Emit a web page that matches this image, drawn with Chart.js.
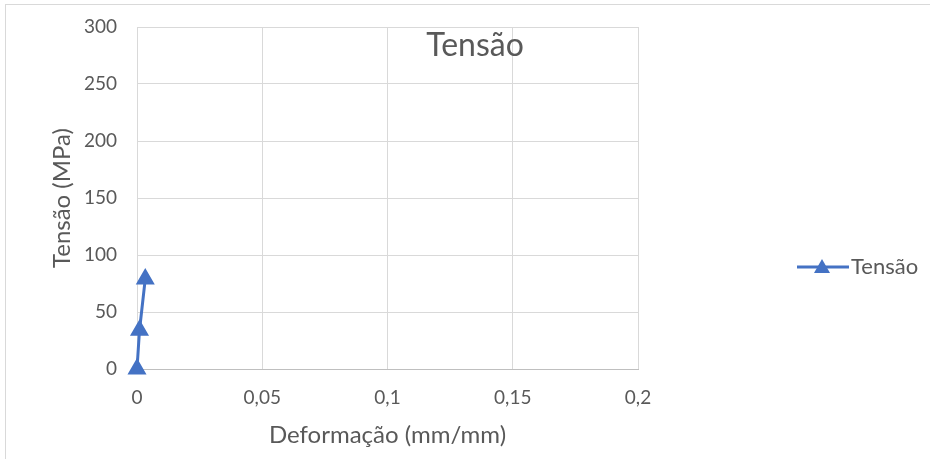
<!DOCTYPE html>
<html><head><meta charset="utf-8">
<script src="https://cdn.jsdelivr.net/npm/chart.js@4/dist/chart.umd.min.js"></script>
<style>html,body{margin:0;padding:0;background:#fff;}#wrap{width:930px;height:459px;position:relative;}</style>
</head><body><div id="wrap"><canvas id="c" width="930" height="459"></canvas></div>
<script>
const seriesName = 'Tensão';
const strainValues = [0, 0.001, 0.0033];
const stressValues = [0, 34, 79];
const xTickValues = [0, 0.05, 0.1, 0.15, 0.2];
const xTickLabels = ['0', '0,05', '0,1', '0,15', '0,2'];
const yTickValues = [0, 50, 100, 150, 200, 250, 300];
const chartTitle = 'Tensão';
const xTitle = 'Deformação (mm/mm)';
const yTitle = 'Tensão (MPa)';

const FONT = 'Lato, "Liberation Sans", sans-serif';
const TXT = '#595959';
const BLUE = '#4472C4';

const points = strainValues.map((x, i) => ({x: x, y: stressValues[i]}));

const extras = {
  id: 'extras',
  beforeDraw(chart) {
    const ctx = chart.ctx;
    ctx.save();
    ctx.strokeStyle = '#d9d9d9';
    ctx.lineWidth = 1;
    ctx.strokeRect(5.5, 4.5, 940, 470);
    ctx.restore();
  },
  afterDraw(chart) {
    const ctx = chart.ctx;
    ctx.save();
    ctx.fillStyle = TXT;
    ctx.font = '32px ' + FONT;
    ctx.textAlign = 'center';
    ctx.textBaseline = 'middle';
    ctx.fillText(chartTitle, 475, 46);
    // legend
    const ly = 267;
    ctx.strokeStyle = BLUE;
    ctx.lineWidth = 3;
    ctx.beginPath();
    ctx.moveTo(797, ly);
    ctx.lineTo(849, ly);
    ctx.stroke();
    ctx.fillStyle = BLUE;
    ctx.beginPath();
    ctx.moveTo(822, ly - 8);
    ctx.lineTo(830, ly + 6);
    ctx.lineTo(814, ly + 6);
    ctx.closePath();
    ctx.fill();
    ctx.fillStyle = TXT;
    ctx.font = '22px ' + FONT;
    ctx.textAlign = 'left';
    ctx.fillText(seriesName, 851, ly);
    ctx.restore();
  }
};

new Chart(document.getElementById('c'), {
  type: 'scatter',
  data: {
    datasets: [{
      label: seriesName,
      data: points,
      showLine: true,
      clip: false,
      borderColor: BLUE,
      backgroundColor: BLUE,
      borderWidth: 3,
      pointStyle: 'triangle',
      pointRadius: 8,
      pointHoverRadius: 8,
      tension: 0
    }]
  },
  options: {
    responsive: false,
    animation: false,
    devicePixelRatio: 1,
    layout: {autoPadding: false, padding: {left: 0, right: 292, top: 27, bottom: 0}},
    plugins: {legend: {display: false}, title: {display: false}, tooltip: {enabled: false}},
    scales: {
      x: {
        type: 'linear',
        min: 0, max: 0.2,
        afterBuildTicks(s) { s.ticks = xTickValues.map(v => ({value: v})); },
        afterFit(s) { s.height = 90; s.paddingLeft = 0; s.paddingRight = 0; },
        grid: {color: '#d9d9d9', drawTicks: false, lineWidth: 1},
        border: {color: '#bfbfbf'},
        ticks: {
          padding: 17, color: TXT, font: {family: FONT, size: 19},
          callback: (v) => { const i = xTickValues.findIndex(t => Math.abs(t - v) < 1e-9); return i >= 0 ? xTickLabels[i] : ''; }
        },
        title: {display: true, text: xTitle, color: TXT, font: {family: FONT, size: 24}, padding: {top: 0, bottom: 9}}
      },
      y: {
        type: 'linear',
        min: 0, max: 300,
        afterBuildTicks(s) { s.ticks = yTickValues.map(v => ({value: v})); },
        afterFit(s) { s.width = 137; s.paddingTop = 0; s.paddingBottom = 0; },
        grid: {color: '#d9d9d9', drawTicks: false, lineWidth: 1},
        border: {color: '#d9d9d9'},
        ticks: {padding: 20, color: TXT, font: {family: FONT, size: 19}},
        title: {display: true, text: yTitle, color: TXT, font: {family: FONT, size: 24}, padding: {top: 48, bottom: 0}}
      }
    }
  },
  plugins: [extras]
});
</script></body></html>
